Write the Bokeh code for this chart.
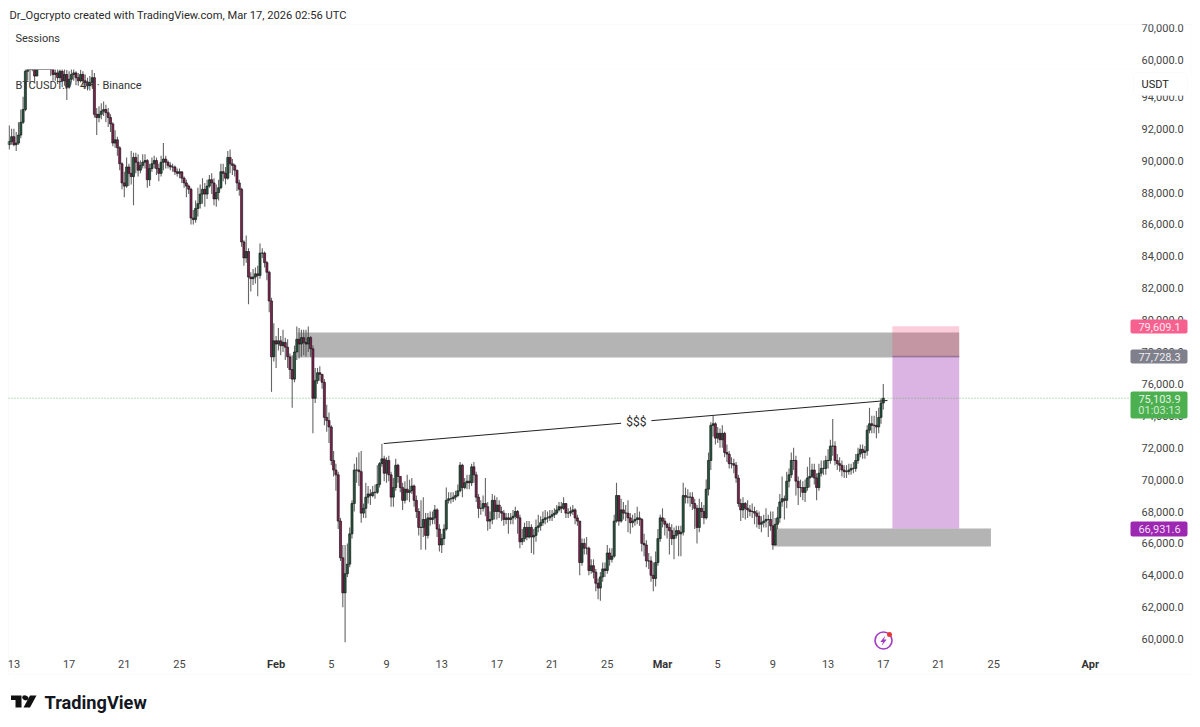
import numpy as np
from bokeh.embed import file_html
from bokeh.layouts import column
from bokeh.models import (BoxAnnotation, ColumnDataSource, FixedTicker, Label,
                          NumeralTickFormatter, PolyAnnotation, Range1d)
from bokeh.plotting import figure
from bokeh.resources import INLINE

FONT = "Roboto"

# ---- candle data, thousands of USDT, 4h bars, one row per calendar day
closes_k = [
    91.2, 91.5,
    91.0, 91.1, 91.6, 92.4, 93.2, 95.6,
    96.2, 95.8, 96.5, 95.3, 96.6, 97.0,
    97.0, 96.9, 97.2, 96.5, 96.0, 95.4,
    95.5, 95.2, 95.6, 95.0, 95.4, 94.6,
    95.1, 95.4, 95.5, 95.2, 95.0, 95.4,
    95.0, 94.9, 94.7, 94.9, 95.2, 92.9,
    92.7, 92.9, 93.1, 93.2, 93.0, 92.7,
    92.3, 91.1, 91.3, 90.8, 89.8, 88.6,
    88.4, 89.6, 89.2, 89.0, 90.2, 89.9,
    89.4, 89.7, 89.9, 90.0, 88.8, 89.5,
    89.8, 90.0, 89.5, 89.2, 89.9, 90.1,
    89.9, 89.7, 89.6, 89.6, 89.3, 89.2,
    89.3, 88.9, 88.6, 88.4, 88.2, 86.4,
    86.3, 87.0, 87.3, 87.9, 88.2, 87.9,
    88.4, 88.8, 88.6, 87.6, 88.0, 88.3,
    89.3, 89.2, 88.9, 90.2, 89.8, 89.7,
    89.4, 88.6, 88.2, 84.9, 83.9, 84.3,
    82.7, 82.6, 82.7, 82.9, 82.8, 84.2,
    84.2, 83.6, 83.0, 81.2, 77.7, 78.7,
    78.5, 78.7, 78.4, 78.6, 78.3, 77.7,
    76.9, 76.3, 78.0, 78.8, 78.5, 78.9,
    78.6, 78.5, 78.9, 78.2, 75.1, 76.2,
    76.7, 76.6, 76.1, 73.9, 73.7, 73.3,
    71.2, 70.6, 70.3, 67.4, 65.1, 62.9,
    64.1, 64.7, 66.6, 68.5, 70.6, 70.6,
    70.5, 67.9, 68.2, 68.9, 69.1, 69.0,
    69.2, 69.2, 69.7, 71.0, 71.3, 70.4,
    71.2, 70.3, 68.9, 69.5, 70.9, 70.2,
    69.5, 68.7, 69.4, 69.2, 69.3, 69.6,
    68.7, 68.0, 67.0, 67.0, 67.5, 66.5,
    67.6, 67.5, 67.6, 68.1, 66.9, 65.9,
    66.3, 66.9, 68.7, 68.8, 68.8, 68.9,
    69.0, 69.3, 70.9, 69.5, 69.8, 69.9,
    69.8, 70.8, 70.3, 68.9, 68.2, 68.2,
    68.5, 68.3, 67.4, 67.5, 68.7, 68.0,
    68.4, 68.0, 67.9, 67.5, 67.6, 67.5,
    67.6, 67.7, 68.0, 67.6, 66.1, 66.3,
    67.0, 66.4, 67.0, 66.4, 66.5, 67.0,
    67.1, 67.3, 67.5, 67.6, 67.6, 67.7,
    67.8, 67.9, 68.1, 68.3, 68.2, 68.5,
    67.9, 67.9, 68.0, 68.1, 67.6, 67.4,
    64.8, 66.0, 65.7, 65.7, 64.3, 64.6,
    64.2, 63.5, 63.2, 63.9, 64.4, 64.3,
    65.4, 65.0, 65.2, 67.4, 69.0, 67.4,
    68.1, 67.9, 67.9, 67.6, 67.3, 67.4,
    67.5, 67.6, 67.5, 66.0, 65.9, 64.9,
    64.9, 64.0, 63.8, 64.8, 66.3, 67.6,
    67.4, 67.2, 67.0, 66.8, 66.3, 66.5,
    66.8, 66.6, 66.7, 69.0, 68.9, 68.9,
    68.9, 68.5, 68.2, 67.0, 68.2, 68.0,
    67.6, 69.4, 71.2, 73.4, 73.5, 72.6,
    72.9, 72.5, 72.9, 71.7, 71.6, 71.0,
    71.0, 70.9, 70.1, 68.5, 68.1, 68.5,
    68.2, 68.1, 68.0, 68.0, 67.9, 67.7,
    67.2, 67.3, 67.4, 67.5, 67.5, 67.1,
    65.9, 67.2, 67.6, 68.6, 68.8, 68.7,
    69.9, 70.3, 71.2, 71.2, 69.9, 69.5,
    69.5, 69.2, 69.5, 70.1, 70.2, 70.6,
    70.1, 69.5, 70.4, 70.7, 70.7, 71.2,
    71.2, 72.1, 72.1, 71.2, 71.0, 70.9,
    70.6, 70.5, 70.5, 70.6, 70.7, 70.7,
    71.2, 71.6, 71.9, 71.7, 71.8, 73.1,
    73.5, 73.4, 73.4, 73.3, 73.9, 74.8,
    75.1,
]
highs_k = [
    92.2, 92.0,
    92.0, 91.8, 92.4, 93.2, 94.0, 95.9,
    97.0, 96.6, 97.0, 96.7, 97.2, 97.6,
    97.5, 97.5, 97.8, 97.4, 96.7, 96.2,
    96.3, 96.0, 96.2, 95.9, 96.0, 95.7,
    95.6, 95.8, 95.9, 95.6, 95.5, 95.7,
    95.6, 95.4, 95.2, 95.3, 95.7, 95.5,
    93.3, 93.4, 93.6, 93.7, 93.5, 93.3,
    92.9, 92.4, 91.9, 91.5, 90.9, 89.9,
    89.3, 90.2, 89.8, 90.6, 90.5, 90.5,
    90.4, 90.0, 90.4, 90.4, 90.1, 89.8,
    90.2, 90.3, 90.2, 89.8, 90.3, 91.1,
    90.3, 90.0, 89.9, 89.8, 89.7, 89.5,
    89.5, 89.3, 89.0, 88.8, 88.5, 88.3,
    86.9, 87.5, 88.3, 88.5, 88.9, 88.6,
    88.8, 89.1, 89.2, 88.9, 88.5, 88.8,
    89.8, 89.8, 89.6, 90.6, 90.7, 90.1,
    89.8, 89.4, 88.8, 88.3, 85.0, 85.3,
    84.5, 83.0, 83.2, 83.3, 83.4, 84.8,
    84.5, 84.3, 83.7, 83.1, 81.4, 79.8,
    79.0, 79.5, 79.0, 79.4, 78.9, 78.8,
    77.9, 77.8, 78.4, 79.6, 79.5, 79.4,
    79.4, 79.4, 79.6, 79.0, 78.4, 77.0,
    77.0, 77.1, 76.5, 76.3, 74.7, 74.2,
    73.4, 71.8, 71.0, 70.5, 67.6, 65.9,
    65.9, 66.0, 67.0, 68.7, 71.0, 71.4,
    71.7, 71.8, 68.5, 69.8, 69.6, 69.4,
    69.6, 69.7, 70.9, 71.1, 72.25, 71.5,
    71.4, 71.5, 70.5, 70.1, 71.3, 71.0,
    70.2, 69.8, 69.9, 70.3, 70.0, 70.1,
    69.7, 69.0, 68.2, 68.7, 68.9, 67.9,
    67.9, 68.0, 68.0, 68.4, 68.2, 67.2,
    66.6, 67.2, 69.5, 69.2, 69.2, 69.2,
    69.3, 69.7, 71.1, 71.0, 70.1, 70.3,
    70.3, 71.0, 71.1, 70.5, 69.1, 68.7,
    69.0, 70.1, 68.6, 68.0, 69.1, 69.0,
    68.9, 68.7, 68.3, 68.1, 67.9, 67.9,
    67.9, 68.1, 68.3, 68.1, 67.8, 66.9,
    67.3, 67.4, 67.4, 67.2, 66.9, 67.5,
    67.8, 67.7, 68.0, 68.1, 68.0, 68.1,
    68.1, 68.2, 68.4, 68.6, 68.6, 68.9,
    68.5, 68.2, 68.3, 68.4, 68.2, 67.8,
    67.4, 66.3, 66.3, 66.4, 65.8, 65.0,
    65.0, 64.4, 63.8, 64.2, 64.8, 64.8,
    65.9, 65.7, 65.7, 67.8, 69.8, 69.0,
    68.8, 68.6, 68.4, 68.7, 67.9, 67.8,
    67.9, 68.3, 68.0, 67.6, 66.6, 66.2,
    65.4, 65.2, 64.8, 65.5, 66.9, 67.8,
    68.2, 67.6, 67.3, 67.3, 67.2, 67.0,
    67.1, 67.1, 67.1, 69.8, 69.5, 69.4,
    69.2, 69.2, 68.8, 68.4, 68.8, 68.6,
    68.4, 70.0, 71.7, 73.6, 74.0, 73.6,
    73.3, 73.2, 73.4, 73.0, 72.2, 71.8,
    71.4, 71.3, 71.1, 70.3, 68.8, 68.9,
    68.6, 68.7, 68.4, 68.5, 68.3, 68.1,
    68.0, 67.7, 67.8, 68.2, 67.8, 68.0,
    68.0, 67.6, 68.3, 69.1, 70.2, 69.0,
    70.5, 70.7, 71.7, 72.0, 71.5, 70.2,
    70.0, 69.9, 70.0, 70.8, 71.4, 71.0,
    71.0, 70.4, 71.0, 71.2, 71.2, 71.5,
    71.9, 72.5, 73.8, 72.4, 71.6, 71.4,
    71.2, 70.9, 70.9, 71.0, 71.0, 71.1,
    71.6, 72.0, 72.2, 72.2, 72.1, 73.4,
    74.5, 74.0, 74.0, 74.3, 74.5, 75.1,
    76.0,
]
lows_k = [
    90.7, 91.0,
    90.9, 90.6, 91.0, 91.4, 92.3, 93.1,
    95.0, 94.8, 95.6, 94.9, 96.0, 96.3,
    96.5, 96.4, 96.5, 96.1, 95.3, 95.0,
    95.0, 94.8, 94.9, 94.6, 94.7, 93.8,
    94.5, 94.9, 95.0, 94.8, 94.7, 94.9,
    94.7, 94.5, 94.4, 94.4, 94.6, 92.7,
    91.6, 92.4, 92.6, 92.8, 92.4, 92.1,
    91.8, 90.9, 90.8, 90.3, 89.4, 88.2,
    87.7, 88.3, 88.4, 88.5, 87.2, 89.2,
    89.0, 89.2, 89.5, 89.5, 88.3, 88.4,
    89.3, 89.5, 89.1, 88.7, 89.0, 89.4,
    89.5, 89.5, 89.4, 89.3, 89.1, 89.0,
    88.9, 88.6, 88.3, 87.7, 87.9, 86.0,
    86.0, 86.1, 86.5, 87.0, 87.3, 87.1,
    87.6, 88.3, 87.9, 87.2, 87.1, 87.5,
    88.2, 88.7, 88.5, 88.8, 89.2, 89.1,
    89.0, 88.1, 87.8, 84.6, 83.4, 83.6,
    81.0, 81.8, 82.2, 82.3, 81.5, 82.6,
    83.9, 83.3, 82.5, 80.5, 75.5, 77.4,
    77.0, 78.1, 77.8, 78.0, 77.5, 77.0,
    76.3, 74.5, 76.1, 77.5, 77.6, 77.7,
    77.8, 77.7, 78.0, 77.7, 72.9, 74.8,
    76.0, 76.2, 75.7, 73.4, 73.0, 72.3,
    70.9, 70.2, 69.3, 66.9, 64.9, 62.0,
    59.8, 63.9, 64.5, 66.3, 68.0, 69.8,
    69.6, 67.3, 67.6, 67.6, 68.5, 68.4,
    68.9, 68.8, 69.1, 69.5, 70.8, 69.9,
    69.8, 69.9, 68.3, 68.3, 69.3, 69.8,
    69.2, 68.1, 68.5, 68.7, 68.6, 69.1,
    68.3, 67.6, 66.5, 65.6, 66.4, 65.6,
    66.3, 67.1, 67.2, 67.2, 66.4, 65.5,
    65.4, 65.9, 66.8, 68.5, 68.5, 68.6,
    68.7, 68.9, 69.2, 68.9, 69.4, 69.4,
    69.4, 69.6, 69.8, 68.6, 67.6, 67.8,
    68.0, 67.7, 66.8, 66.9, 67.2, 67.5,
    67.5, 67.6, 67.4, 67.1, 67.2, 66.6,
    67.2, 67.2, 67.5, 66.6, 65.7, 65.9,
    66.1, 66.2, 66.3, 65.4, 65.3, 66.1,
    66.7, 66.8, 67.1, 67.2, 67.3, 67.4,
    67.4, 67.6, 67.8, 68.0, 67.9, 68.1,
    67.6, 67.6, 67.7, 67.8, 67.2, 67.1,
    64.0, 64.6, 65.3, 65.3, 64.0, 64.1,
    63.8, 63.0, 62.5, 62.4, 63.6, 63.9,
    64.1, 64.6, 64.8, 65.1, 67.3, 67.1,
    67.3, 67.5, 67.4, 66.7, 66.6, 67.0,
    67.1, 67.2, 67.1, 65.5, 65.2, 64.5,
    64.4, 63.6, 63.0, 63.3, 64.6, 66.1,
    67.0, 66.5, 66.3, 65.3, 65.9, 65.0,
    66.3, 65.2, 65.2, 66.5, 68.5, 68.5,
    68.3, 68.1, 66.9, 66.0, 66.7, 67.6,
    67.2, 67.5, 69.0, 70.6, 72.7, 72.2,
    72.3, 72.0, 72.0, 71.4, 71.1, 70.7,
    70.7, 70.4, 69.8, 68.3, 67.4, 67.6,
    67.5, 67.6, 67.7, 67.6, 67.2, 67.0,
    66.9, 66.7, 67.0, 67.0, 66.4, 66.8,
    65.6, 65.9, 66.9, 67.3, 68.3, 67.5,
    68.2, 69.5, 70.1, 70.6, 69.0, 68.4,
    68.9, 68.7, 68.6, 69.3, 69.5, 70.1,
    69.7, 68.7, 69.3, 70.2, 70.3, 70.3,
    70.7, 71.0, 71.5, 70.9, 70.6, 70.5,
    70.2, 70.1, 70.1, 70.3, 70.3, 70.4,
    70.5, 71.0, 71.4, 71.3, 71.3, 71.5,
    72.9, 72.9, 72.9, 72.6, 72.9, 73.5,
    74.4,
]
first_open_k = 91.0
first_bar_day = -1 / 3          # Jan 12 16:00, days counted from Jan 13
bars_per_day = 6

# ---- axes
price_ticks = list(range(60000, 96000, 2000))
session_ticks = [60000, 70000]
day_ticks = [0, 4, 8, 12, 23, 27, 31, 35, 39, 43, 51, 55, 59, 63, 67, 71]
day_labels = ["13", "17", "21", "25", "5", "9", "13", "17", "21", "25", "5", "9", "13", "17", "21", "25"]
month_ticks = [19, 47, 78]
month_labels = ["Feb", "Mar", "Apr"]

# ---- drawings (prices in USDT, x in days from Jan 13)
resistance_zone = dict(x0=20.55, x1=68.5, y0=77650, y1=79220)
support_zone = dict(x0=55.05, x1=70.8, y0=65810, y1=66931.6)
position_x = [63.66, 68.5]
stop_price, entry_price, target_price = 79609.1, 77728.3, 66931.6
last_price = 75103.9
trend_x = [26.8, 63.3]
trend_y = [72260, 74960]
trend_label_day = 45.1

# ---- pixel <-> data helpers for page furniture only
PX_PER_DAY, PX_DAY0 = 13.8, 13.4
PX_PER_USDT, PY_60K = 0.01595, 638.6
PANE_TOP = 69
def X(px): return (px - PX_DAY0) / PX_PER_DAY
def Y(py): return 60000 + (PY_60K - py) / PX_PER_USDT
def SY(py): return 60000 + (59 - py) * 10000 / 32

def text(fig, px, py, txt, top=0, **kw):
    fig.add_layout(Label(x=px, y=py - top, x_units="canvas", y_units="canvas", text=txt,
                         text_font=kw.pop("font", FONT), text_baseline="middle", level="overlay", **kw))

def box(fig, px0, px1, py0, py1, top=0, **kw):
    fig.add_layout(BoxAnnotation(left=px0, right=px1, top=py0 - top, bottom=py1 - top,
                                 left_units="canvas", right_units="canvas", top_units="canvas", bottom_units="canvas",
                                 **kw))

def style_axis(ax, size, standoff):
    ax.axis_line_color = None
    ax.major_tick_line_color = None
    ax.minor_tick_line_color = None
    ax.major_label_text_font = FONT
    ax.major_label_text_font_size = size
    ax.major_label_text_color = "#444444"
    ax.major_label_standoff = standoff

closes = np.array(closes_k) * 1000
highs = np.array(highs_k) * 1000
lows = np.array(lows_k) * 1000
opens = np.r_[first_open_k * 1000, closes[:-1]]
highs = np.maximum.reduce([highs, opens, closes])
lows = np.minimum.reduce([lows, opens, closes])
days = first_bar_day + np.arange(len(closes)) / bars_per_day
up = closes >= opens
UP_COL, DN_COL = "#24593f", "#84204f"
source = ColumnDataSource(dict(
    day=days, o=opens, h=highs, l=lows, c=closes,
    top=np.maximum(opens, closes), bottom=np.minimum(opens, closes),
    color=[UP_COL if u else DN_COL for u in up]))

x_range = Range1d(X(0), X(1192))

# ---- upper "Sessions" pane
s = figure(frame_width=1192, frame_height=69, x_range=x_range, y_range=Range1d(SY(69), SY(0)),
           output_backend="svg", toolbar_location=None, y_axis_location="right",
           min_border=0, outline_line_color=None, background_fill_color="white", border_fill_color="white")
s.xaxis.visible = False
s.xgrid.visible = False
s.ygrid.visible = False
s.yaxis.ticker = FixedTicker(ticks=session_ticks)
s.yaxis.formatter = NumeralTickFormatter(format="0,0.0")
style_axis(s.yaxis, "11px", -57)

text(s, 9, 15, "Dr_Ogcrypto created with TradingView.com, Mar 17, 2026 02:56 UTC",
     text_font_size="11.15px", text_color="#2a2a2a")
text(s, 15, 38, "Sessions", text_font_size="11px", text_color="#333333")
box(s, 8, 1191.5, 24, 69, fill_alpha=0, line_color="#f0f0f0", line_width=1)

# ---- main price pane
p = figure(frame_width=1192, frame_height=650, x_range=x_range, y_range=Range1d(Y(719), Y(69)),
           output_backend="svg", toolbar_location=None, y_axis_location="right",
           min_border=0, outline_line_color=None, background_fill_color="white", border_fill_color="white")
p.xgrid.visible = False
p.ygrid.visible = False
p.yaxis.ticker = FixedTicker(ticks=price_ticks)
p.yaxis.formatter = NumeralTickFormatter(format="0,0.0")
style_axis(p.yaxis, "11px", -57)
p.xaxis.ticker = FixedTicker(ticks=day_ticks)
p.xaxis.major_label_overrides = dict(zip(day_ticks, day_labels))
style_axis(p.xaxis, "11px", -66)

# zones
p.quad(left=[resistance_zone["x0"], support_zone["x0"]], right=[resistance_zone["x1"], support_zone["x1"]],
       bottom=[resistance_zone["y0"], support_zone["y0"]], top=[resistance_zone["y1"], support_zone["y1"]],
       fill_color="#b4b4b4", line_color=None)
# short-position tool
p.quad(left=[position_x[0]], right=[position_x[1]], bottom=[entry_price], top=[stop_price],
       fill_color="#f23d74", fill_alpha=0.25, line_color=None)
p.quad(left=[position_x[0]], right=[position_x[1]], bottom=[target_price], top=[entry_price],
       fill_color="#9c27b0", fill_alpha=0.35, line_color=None)
p.line(position_x, [entry_price, entry_price], line_color="#8f6f90", line_width=1)
# last price line
p.line([X(8), X(1130)], [last_price, last_price], line_color="#4caf50", line_dash=[1, 2], line_width=1, line_alpha=0.8)
# candles
p.segment(x0="day", y0="l", x1="day", y1="h", source=source, line_color="#4a4a4a", line_width=1.1, line_alpha=0.85)
p.vbar(x="day", top="top", bottom="bottom", width=0.15, source=source,
       fill_color="color", line_color="#111111", line_width=0.7, line_alpha=0.9)
# trend line with $$$ label
p.line(trend_x, trend_y, line_color="#222222", line_width=1)
p.add_layout(Label(x=trend_label_day,
                   y=trend_y[0] + (trend_y[1] - trend_y[0]) * (trend_label_day - trend_x[0]) / (trend_x[1] - trend_x[0]),
                   text="$$$", text_font=FONT, text_font_size="12px", text_color="#2b2b2b",
                   text_align="center", text_baseline="middle",
                   background_fill_color="white", padding=5))

# lightning badge
p.scatter([X(883)], [Y(640)], size=17, marker="circle", fill_color="white", line_color="#a13bc4", line_width=1.6)
p.patch([X(v) for v in (885, 879.8, 882.6, 881, 886.2, 883.4)], [Y(v) for v in (635, 641.4, 641.4, 645.5, 639, 639)],
        fill_color="#a13bc4", line_color=None)
p.scatter([X(889)], [Y(634)], size=5, marker="circle", fill_color="#e53935", line_color=None)

T = PANE_TOP
# right axis tags
tags = [("79,609.1", 319, 333, "#f7618f", "#fde6ee"), ("77,728.3", 349, 363, "#7f808c", "#eeeeee"),
        ("66,931.6", 521, 536, "#9c27b0", "#f3dff7")]
for txt, py0, py1, col, tcol in tags:
    box(p, 1130, 1187, py0, py1, top=T, fill_color=col, fill_alpha=1, line_color=None, border_radius=2, level="overlay")
    text(p, 1159, (py0 + py1) / 2, txt, top=T, text_font_size="11px", text_color=tcol, text_align="center")
box(p, 1130, 1187, 391, 418, top=T, fill_color="#4caf50", fill_alpha=1, line_color=None, border_radius=2, level="overlay")
text(p, 1159, 398, "75,103.9", top=T, text_font_size="11px", text_color="#e4f4e4", text_align="center")
text(p, 1159, 410, "01:03:13", top=T, text_font_size="11px", text_color="#cdeccd", text_align="center")
# USDT box
box(p, 1133, 1187, 72, 95, top=T, fill_color="white", fill_alpha=1, line_color="#eeeeee", border_radius=4, level="overlay")
text(p, 1141, 84, "USDT", top=T, text_font_size="11px", text_color="#222222")

# month labels (bolder than days)
for d, txt in zip(month_ticks, month_labels):
    text(p, PX_DAY0 + d * PX_PER_DAY, 663.5, txt, top=T, text_font_size="11px", text_font_style="bold",
         text_color="#333333", text_align="center")
text(p, 15, 85, "BTCUSDT.P \u00b7 4H \u00b7 Binance", top=T, text_font_size="11px", text_color="#333333")
# pane frame
box(p, 8, 1191.5, 69, 674, top=T, fill_alpha=0, line_color="#f0f0f0", line_width=1)

# TradingView logo and wordmark
logo = [((10.5, 21, 21, 15, 15, 10.5), (695, 695, 707, 707, 699.5, 699.5)),
        ((23, 29.5, 36, 29.5), (707, 707, 695, 695)),
        ((22.2, 24.2, 26.6, 28, 27.4, 25, 22.8, 21.6), (695.2, 694.8, 695.5, 697.2, 699.2, 700, 699, 697.2))]
for xs, ys in logo:
    p.add_layout(PolyAnnotation(xs=list(xs), ys=[v - T for v in ys], xs_units="canvas", ys_units="canvas",
                                fill_color="#111111", fill_alpha=1, line_color=None, level="overlay"))
text(p, 44, 701.5, "TradingView", top=T, text_font_size="18.2px", text_font_style="bold", text_color="#131722")

layout = column(s, p, spacing=0)
open("out.html", "w").write(file_html(layout, INLINE))
